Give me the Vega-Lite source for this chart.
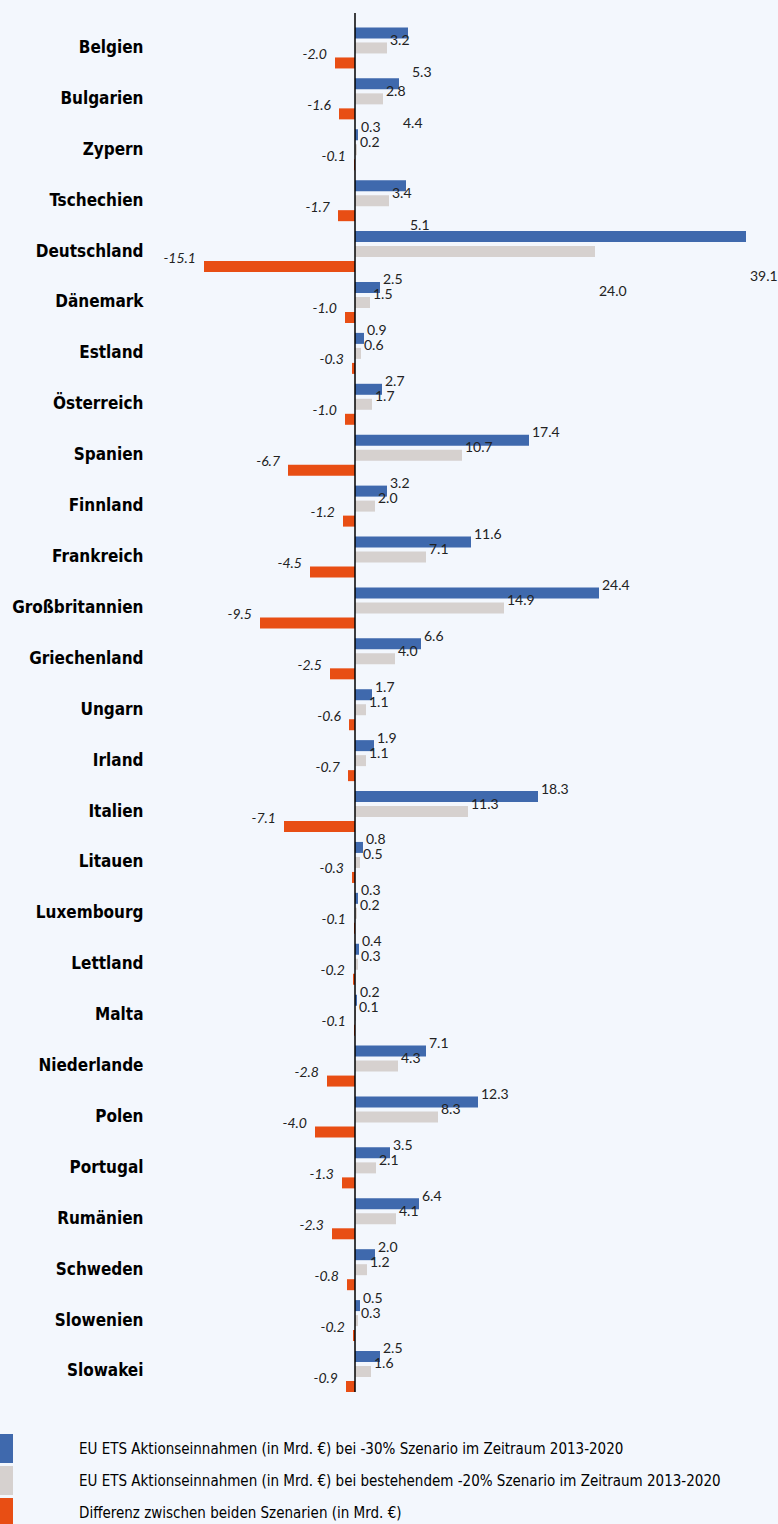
{
  "$schema": "https://vega.github.io/schema/vega-lite/v6.json",
  "width": 620,
  "height": 1379,
  "autosize": {"type": "none"},
  "padding": {"left": 155, "top": 13, "right": 3, "bottom": 132},
  "background": "#f3f7fd",
  "config": {
    "view": {"stroke": null},
    "font": "Lato",
    "locale": {"number": {"decimal": ".", "thousands": ",", "grouping": [3], "currency": ["", ""], "minus": "-"}}
  },
  "data": {
    "values": [
      {"land": "Belgien", "a": 5.3, "b": 3.2, "d": -2.0},
      {"land": "Bulgarien", "a": 4.4, "b": 2.8, "d": -1.6},
      {"land": "Zypern", "a": 0.3, "b": 0.2, "d": -0.1},
      {"land": "Tschechien", "a": 5.1, "b": 3.4, "d": -1.7},
      {"land": "Deutschland", "a": 39.1, "b": 24.0, "d": -15.1},
      {"land": "Dänemark", "a": 2.5, "b": 1.5, "d": -1.0},
      {"land": "Estland", "a": 0.9, "b": 0.6, "d": -0.3},
      {"land": "Österreich", "a": 2.7, "b": 1.7, "d": -1.0},
      {"land": "Spanien", "a": 17.4, "b": 10.7, "d": -6.7},
      {"land": "Finnland", "a": 3.2, "b": 2.0, "d": -1.2},
      {"land": "Frankreich", "a": 11.6, "b": 7.1, "d": -4.5},
      {"land": "Großbritannien", "a": 24.4, "b": 14.9, "d": -9.5},
      {"land": "Griechenland", "a": 6.6, "b": 4.0, "d": -2.5},
      {"land": "Ungarn", "a": 1.7, "b": 1.1, "d": -0.6},
      {"land": "Irland", "a": 1.9, "b": 1.1, "d": -0.7},
      {"land": "Italien", "a": 18.3, "b": 11.3, "d": -7.1},
      {"land": "Litauen", "a": 0.8, "b": 0.5, "d": -0.3},
      {"land": "Luxembourg", "a": 0.3, "b": 0.2, "d": -0.1},
      {"land": "Lettland", "a": 0.4, "b": 0.3, "d": -0.2},
      {"land": "Malta", "a": 0.2, "b": 0.1, "d": -0.1},
      {"land": "Niederlande", "a": 7.1, "b": 4.3, "d": -2.8},
      {"land": "Polen", "a": 12.3, "b": 8.3, "d": -4.0},
      {"land": "Portugal", "a": 3.5, "b": 2.1, "d": -1.3},
      {"land": "Rumänien", "a": 6.4, "b": 4.1, "d": -2.3},
      {"land": "Schweden", "a": 2.0, "b": 1.2, "d": -0.8},
      {"land": "Slowenien", "a": 0.5, "b": 0.3, "d": -0.2},
      {"land": "Slowakei", "a": 2.5, "b": 1.6, "d": -0.9}
    ]
  },
  "transform": [{"fold": ["a", "b", "d"], "as": ["serie", "wert"]}],
  "layer": [
    {
      "mark": {"type": "bar"},
      "encoding": {
        "y": {
          "field": "land", "type": "nominal", "sort": null,
          "scale": {"paddingInner": 0.1945, "paddingOuter": 0.142, "align": 1},
          "axis": {"title": null, "domain": false, "ticks": false, "grid": false,
                   "labelFont": "DejaVu Sans Condensed, Liberation Sans", "labelFontSize": 17, "labelFontWeight": "bold",
                   "labelColor": "#000", "labelPadding": 12, "labelLimit": 0}
        },
        "yOffset": {"field": "serie", "type": "nominal", "sort": ["a", "b", "d"],
                    "scale": {"paddingInner": 0.267, "paddingOuter": 0}},
        "x": {"field": "wert", "type": "quantitative",
              "scale": {"domain": [-20, 42], "nice": false, "zero": false}, "axis": null},
        "color": {
          "field": "serie", "type": "nominal",
          "scale": {"domain": ["a", "b", "d"], "range": ["#3f69ad", "#d6d1cf", "#e84e14"]},
          "legend": {
            "orient": "none", "legendX": -163, "legendY": 1421, "title": null, "padding": 0,
            "symbolType": "M-0.448,-1H0.448V1H-0.448Z", "symbolSize": 841, "symbolStrokeWidth": 0,
            "symbolOpacity": 1, "labelOffset": 58, "rowPadding": 3,
            "labelFont": "DejaVu Sans Condensed, Liberation Sans", "labelFontSize": 15, "labelColor": "#000", "labelLimit": 0,
            "labelExpr": "datum.value == 'a' ? 'EU ETS Aktionseinnahmen (in Mrd. €) bei -30% Szenario im Zeitraum 2013-2020' : datum.value == 'b' ? 'EU ETS Aktionseinnahmen (in Mrd. €) bei bestehendem -20% Szenario im Zeitraum 2013-2020' : 'Differenz zwischen beiden Szenarien (in Mrd. €)'"
          }
        }
      }
    },
    {
      "data": {"values": [{}]},
      "mark": {"type": "rule", "color": "#000", "strokeWidth": 1.5},
      "encoding": {"x": {"datum": 0}}
    },
    {
      "transform": [{"filter": "datum.serie != 'd' && !((datum.serie == 'a' && (datum.land == 'Belgien' || datum.land == 'Bulgarien' || datum.land == 'Tschechien' || datum.land == 'Deutschland')) || (datum.serie == 'b' && datum.land == 'Deutschland'))"}],
      "mark": {"type": "text", "align": "left", "baseline": "middle", "dx": 3, "dy": -7, "fontSize": 14, "color": "#222"},
      "encoding": {
        "y": {"field": "land", "type": "nominal", "sort": null},
        "yOffset": {"field": "serie", "type": "nominal", "sort": ["a", "b", "d"]},
        "x": {"field": "wert", "type": "quantitative"},
        "text": {"field": "wert", "type": "quantitative", "format": ".1f"}
      }
    },
    {
      "transform": [{"filter": "(datum.serie == 'a' && (datum.land == 'Belgien' || datum.land == 'Bulgarien' || datum.land == 'Tschechien' || datum.land == 'Deutschland')) || (datum.serie == 'b' && datum.land == 'Deutschland')"}],
      "mark": {"type": "text", "align": "left", "baseline": "middle", "dx": 4, "dy": 40, "fontSize": 14, "color": "#222"},
      "encoding": {
        "y": {"field": "land", "type": "nominal", "sort": null},
        "yOffset": {"field": "serie", "type": "nominal", "sort": ["a", "b", "d"]},
        "x": {"field": "wert", "type": "quantitative"},
        "text": {"field": "wert", "type": "quantitative", "format": ".1f"}
      }
    },
    {
      "transform": [{"filter": "datum.serie == 'd'"}],
      "mark": {"type": "text", "align": "right", "baseline": "middle", "dx": -8, "dy": -8, "fontSize": 14, "fontStyle": "italic", "color": "#222"},
      "encoding": {
        "y": {"field": "land", "type": "nominal", "sort": null},
        "yOffset": {"field": "serie", "type": "nominal", "sort": ["a", "b", "d"]},
        "x": {"field": "wert", "type": "quantitative"},
        "text": {"field": "wert", "type": "quantitative", "format": ".1f"}
      }
    }
  ]
}
